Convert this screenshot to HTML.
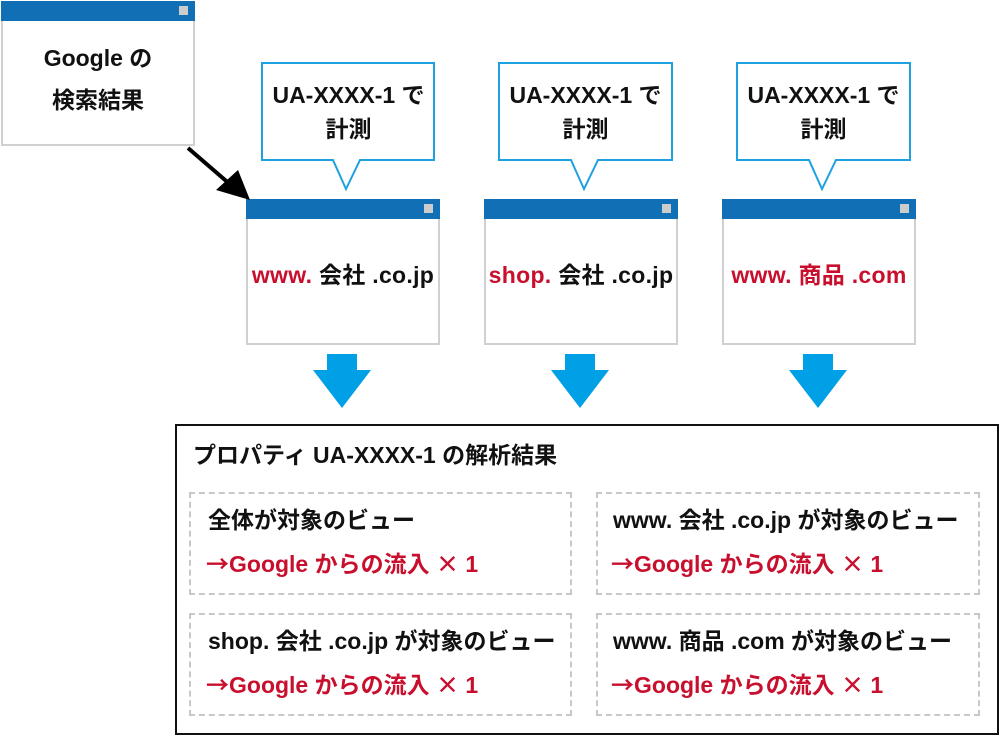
<!DOCTYPE html>
<html><head><meta charset="utf-8"><style>
body{margin:0;width:1000px;height:736px;background:#fff;position:relative;overflow:hidden;font-family:"Liberation Sans","Noto Sans CJK JP",sans-serif;font-weight:bold;color:#111}
.a{position:absolute}
.win{position:absolute;box-sizing:border-box;border:2px solid #d0d0d0;background:#fff}
.win .bar{position:absolute;left:-2px;right:-2px;top:-2px;height:20px;background:#116fb6}
.win .bar i{position:absolute;right:7px;top:5px;width:9px;height:9px;background:#ccc}
.t{position:absolute;font-size:23px;white-space:nowrap;line-height:1}
.r{color:#c8102e}
.j{font-family:"Noto Sans CJK JP",sans-serif}
.dash{position:absolute;box-sizing:border-box;border:2px dashed #c8c8c8}
</style></head><body>
<div class="win" style="left:1px;top:1px;width:194px;height:145px"><div class="bar"><i></i></div></div>
<div class="t" style="left:1px;width:194px;text-align:center;top:47px">Google の</div>
<div class="t" style="left:1px;width:194px;text-align:center;top:89px">検索結果</div>

<div class="win" style="left:246px;top:199px;width:194px;height:146px"><div class="bar"><i></i></div></div>
<div class="win" style="left:484px;top:199px;width:194px;height:146px"><div class="bar"><i></i></div></div>
<div class="win" style="left:722px;top:199px;width:194px;height:146px"><div class="bar"><i></i></div></div>
<div class="t" style="left:246px;width:194px;text-align:center;top:264px;letter-spacing:0.3px"><span class="r">www.</span> 会社 .co.jp</div>
<div class="t" style="left:484px;width:194px;text-align:center;top:264px;letter-spacing:0.3px"><span class="r">shop.</span> 会社 .co.jp</div>
<div class="t" style="left:722px;width:194px;text-align:center;top:264px;letter-spacing:0.3px"><span class="r">www. 商品 .com</span></div>

<svg class="a" style="left:0;top:0" width="1000" height="736">
<g fill="#fff" stroke="#1da1e0" stroke-width="2">
<path d="M262 63H434V160H360L346 189L333 160H262Z"/>
<path d="M499 63H672V160H598L584 189L571 160H499Z"/>
<path d="M737 63H910V160H836L822 189L809 160H737Z"/>
</g>
<line x1="188" y1="148" x2="232" y2="186" stroke="#000" stroke-width="4"/>
<path d="M250 200L216 190L238 170Z" fill="#000"/>
<g fill="#00a0e6">
<path d="M327 354H357V370H371L342 408L313 370H327Z"/>
<path d="M565 354H595V370H609L580 408L551 370H565Z"/>
<path d="M803 354H833V370H847L818 408L789 370H803Z"/>
</g>
</svg>
<div class="t" style="left:262px;width:173px;text-align:center;top:84px">UA-XXXX-1 で</div>
<div class="t" style="left:262px;width:173px;text-align:center;top:118px">計測</div>
<div class="t" style="left:499px;width:173px;text-align:center;top:84px">UA-XXXX-1 で</div>
<div class="t" style="left:499px;width:173px;text-align:center;top:118px">計測</div>
<div class="t" style="left:737px;width:173px;text-align:center;top:84px">UA-XXXX-1 で</div>
<div class="t" style="left:737px;width:173px;text-align:center;top:118px">計測</div>

<div class="a" style="left:175px;top:424px;width:820px;height:307px;border:2px solid #111"></div>
<div class="t" style="left:193px;top:444px">プロパティ UA-XXXX-1 の解析結果</div>

<div class="dash" style="left:189px;top:492px;width:383px;height:103px"></div>
<div class="dash" style="left:596px;top:492px;width:384px;height:103px"></div>
<div class="dash" style="left:189px;top:613px;width:383px;height:103px"></div>
<div class="dash" style="left:596px;top:613px;width:384px;height:103px"></div>

<div class="t" style="left:208px;top:509px">全体が対象のビュー</div>
<div class="t r" style="left:206px;top:551px"><span class="j">→</span>Google からの流入 <span class="j">×</span> 1</div>
<div class="t" style="left:613px;top:509px">www. 会社 .co.jp が対象のビュー</div>
<div class="t r" style="left:611px;top:551px"><span class="j">→</span>Google からの流入 <span class="j">×</span> 1</div>
<div class="t" style="left:208px;top:630px">shop. 会社 .co.jp が対象のビュー</div>
<div class="t r" style="left:206px;top:672px"><span class="j">→</span>Google からの流入 <span class="j">×</span> 1</div>
<div class="t" style="left:613px;top:630px">www. 商品 .com が対象のビュー</div>
<div class="t r" style="left:611px;top:672px"><span class="j">→</span>Google からの流入 <span class="j">×</span> 1</div>
</body></html>
